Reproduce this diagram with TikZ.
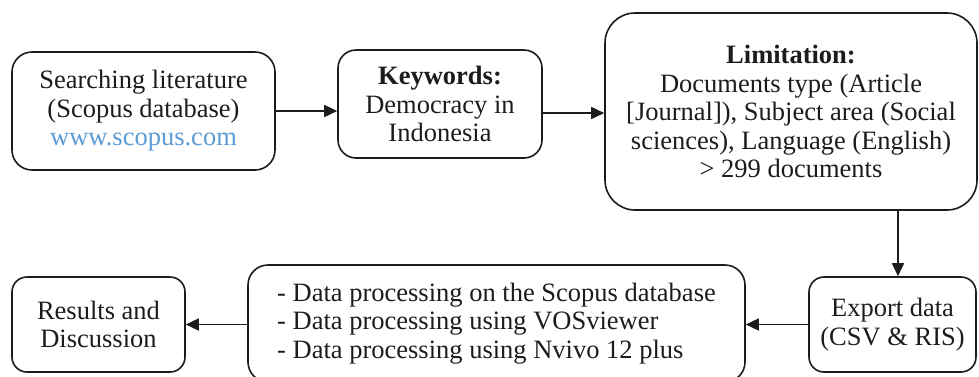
\documentclass[tikz,border=0pt]{standalone}
\usepackage{fontspec}
\setmainfont{Liberation Serif}
\usetikzlibrary{arrows.meta}
\definecolor{linkblue}{RGB}{91,155,213}
\definecolor{ink}{RGB}{28,28,28}
\begin{document}
\begin{tikzpicture}[x=1pt,y=-1pt,
  box/.style={draw=ink, line width=1.6pt, rounded corners=#1, align=center,
    inner sep=0pt, text=ink, font=\fontsize{26.5}{28.5}\selectfont},
  box/.default=18pt,
  arr/.style={draw=ink, line width=1.6pt, -{Triangle[length=13pt,width=12pt]}}]
\useasboundingbox (0,0) rectangle (979,376);

% top row
\node[box=20pt, minimum width=263pt, minimum height=118pt] (search) at (143.5,111)
  {Searching literature\\(Scopus database)\\\textcolor{linkblue}{www.scopus.com}};
\node[box=18pt, minimum width=204pt, minimum height=108pt] (keys) at (440,104)
  {\textbf{Keywords:}\\Democracy in\\Indonesia};
\node[box=30pt, minimum width=372pt, minimum height=197pt] (limit) at (791,111.5)
  {\textbf{Limitation:}\\Documents type (Article\\{[}Journal]), Subject area (Social\\sciences), Language (English)\\> 299 documents};

% bottom row
\node[box=15pt, minimum width=173pt, minimum height=95pt] (results) at (98.5,324.5)
  {Results and\\Discussion};
\node[box=20pt, minimum width=497pt, minimum height=117pt, align=left] (proc) at (496.5,323.5)
  {- Data processing on the Scopus database\\- Data processing using VOSviewer\\- Data processing using Nvivo 12 plus};
\node[box=15pt, minimum width=167pt, minimum height=95pt] (export) at (892.5,324.5)
  {Export data\\(CSV \& RIS)};

% connectors
\draw[arr] (search.east) -- (search.east -| keys.west);
\draw[arr] ([yshift=-9pt]keys.east) -- ([yshift=-9pt]keys.east -| limit.west);
\draw[arr] ([xshift=5.5pt]export.north |- limit.south) -- ([xshift=5.5pt]export.north);
\draw[arr] (export.west) -- (export.west -| proc.east);
\draw[arr] (results.east -| proc.west) -- (results.east);
\end{tikzpicture}
\end{document}
